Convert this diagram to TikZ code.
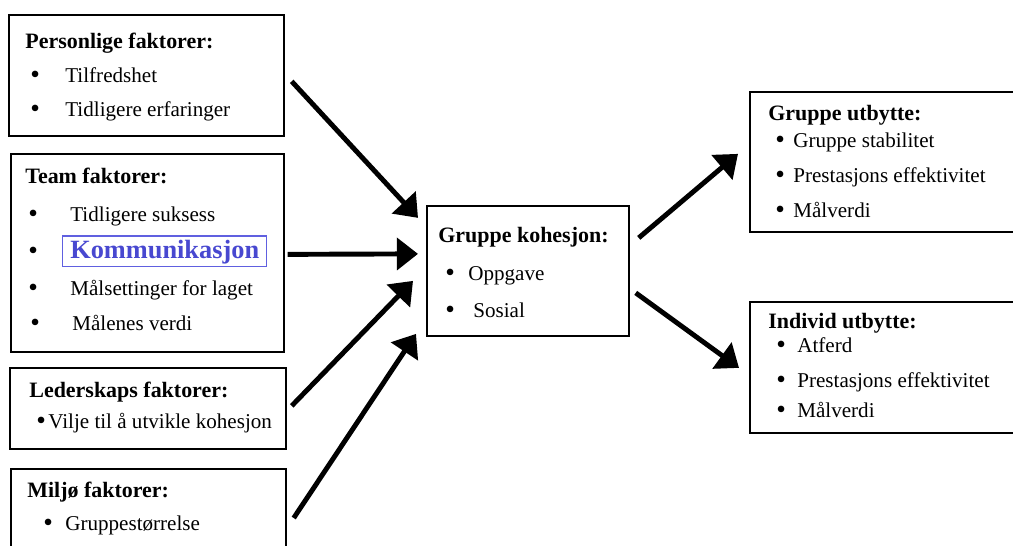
\documentclass[tikz,border=0pt]{standalone}
\usepackage{fontspec}
\setmainfont{Liberation Serif}
\usetikzlibrary{arrows.meta}
\definecolor{komblue}{RGB}{72,72,208}
\definecolor{komframe}{RGB}{96,96,224}
\newcommand{\blt}[1]{\makebox[#1][l]{\raisebox{-0.06em}{\scalebox{1.3}{\textbullet}}}}

\begin{document}
\begin{tikzpicture}[x=0.02cm,y=-0.02cm,
  box/.style={draw,line width=1pt,anchor=north west,inner sep=0pt},
  ttl/.style={anchor=base west,inner sep=0pt,font=\bfseries\fontsize{12.5}{15}\selectfont},
  itm/.style={anchor=base west,inner sep=0pt,font=\fontsize{12}{14}\selectfont},
  kom/.style={draw=komframe,line width=0.8pt,anchor=base west,inner xsep=4.3pt,inner ysep=2pt,
    text height=10.5pt,text depth=3pt,text=komblue,font=\bfseries\fontsize{15}{18}\selectfont},
  arr/.style={line width=2.8pt,-{Triangle[length=12pt,width=18pt]}}]
\clip (0,0) rectangle (1013,545);
% boxes
\node[box,minimum width=5.5cm,minimum height=2.42cm] (pers) at (8,14) {};
\node[box,minimum width=5.46cm,minimum height=3.96cm] (team) at (10,153) {};
\node[box,minimum width=5.52cm,minimum height=1.62cm] (leder) at (9,367) {};
\node[box,minimum width=5.5cm,minimum height=1.84cm] (miljo) at (10,468) {};
\node[box,minimum width=4.04cm,minimum height=2.6cm] (koh) at (426,205) {};
\node[box,minimum width=5.52cm,minimum height=2.8cm] (gutb) at (749,91) {};
\node[box,minimum width=5.52cm,minimum height=2.62cm] (iutb) at (749,301) {};
% texts
\node[ttl] (persT) at (25,48) {Personlige faktorer:};
\foreach \t [count=\i] in {Tilfredshet, Tidligere erfaringer}
  \node[itm] (pers\i) at (30,48+34*\i) {\blt{0.7cm}\t};
\node[ttl] (teamT) at (25,183) {Team faktorer:};
\foreach \x/\y/\t [count=\i] in {28/221/Tidligere suksess, 28/295/Målsettinger for laget, 30/330/Målenes verdi}
  \node[itm] (team\i) at (\x,\y) {\blt{0.84cm}\t};
\node[itm] (teamK) at (28,258) {\blt{0.5cm}};
\node[kom] (kommu) at (62,258) {Kommunikasjon};
\node[ttl] (lederT) at (29,397) {Lederskaps faktorer:};
\node[itm] (leder1) at (36,428) {\blt{0.24cm}Vilje til å utvikle kohesjon};
\node[ttl] (miljoT) at (27,497) {Miljø faktorer:};
\node[itm] (miljo1) at (43,530) {\blt{0.44cm}Gruppestørrelse};
\node[ttl] (kohT) at (438,242) {Gruppe kohesjon:};
\foreach \g/\y/\t [count=\i] in {0.46cm/280/Oppgave, 0.56cm/317/Sosial}
  \node[itm] (koh\i) at (445,\y) {\blt{\g}\t};
\node[ttl] (gutbT) at (768,120) {Gruppe utbytte:};
\foreach \t [count=\i] in {Gruppe stabilitet, Prestasjons effektivitet, Målverdi}
  \node[itm] (gutb\i) at (775,112+35*\i) {\blt{0.36cm}\t};
\node[ttl] (iutbT) at (768,328) {Individ utbytte:};
\foreach \y/\t [count=\i] in {352/Atferd, 387/Prestasjons effektivitet, 417/Målverdi}
  \node[itm] (iutb\i) at (776,\y) {\blt{0.42cm}\t};
% arrows
\draw[arr] ([shift={(7,6)}]pers.east) -- ([shift={(-8,-53)}]koh.west);
\draw[arr] ([shift={(3,1.5)}]team.east) -- ([shift={(-8,-17)}]koh.west);
\draw[arr] ([shift={(5,-2.5)}]leder.east) -- ([shift={(-13,10)}]koh.west);
\draw[arr] ([shift={(7,50)}]miljo.north east) -- ([shift={(-10,63)}]koh.west);
\draw[arr] ([shift={(9,-33)}]koh.east) -- ([shift={(-11,-8)}]gutb.west);
\draw[arr] ([shift={(6,22)}]koh.east) -- ([shift={(-10,0.5)}]iutb.west);
\end{tikzpicture}
\end{document}
